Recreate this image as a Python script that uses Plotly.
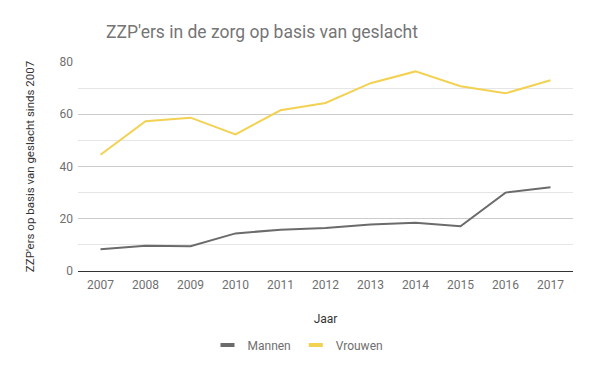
import plotly.graph_objects as go

years = ["2007", "2008", "2009", "2010", "2011", "2012", "2013", "2014", "2015", "2016", "2017"]
mannen = [8.3, 9.7, 9.5, 14.4, 15.8, 16.5, 17.8, 18.5, 17.1, 30.0, 32.1]
vrouwen = [44.5, 57.3, 58.7, 52.3, 61.5, 64.3, 71.9, 76.4, 70.7, 68.0, 73.0]
y_ticks = [0, 20, 40, 60, 80]
series = [("Mannen", mannen, "#6b6b6b"), ("Vrouwen", vrouwen, "#f3d152")]

FONT = "Roboto, Arial, sans-serif"
TXT = "#6f6f6f"
W, H = 600, 371

fig = go.Figure()
for name, vals, col in series:
    fig.add_trace(go.Scatter(x=years, y=vals, mode="lines", name=name, showlegend=False,
                             line=dict(color=col, width=2)))
for name, vals, col in series:
    fig.add_trace(go.Scatter(x=[None], y=[None], mode="markers", name=name,
                             marker=dict(symbol="line-ew", size=10,
                                         line=dict(color=col, width=4))))

fig.update_layout(
    width=W, height=H, autosize=False,
    paper_bgcolor="white", plot_bgcolor="white",
    margin=dict(l=78, r=27, t=62, b=100, autoexpand=False),
    font=dict(family=FONT, color=TXT, size=12),
    title=dict(text="ZZP'ers in de zorg op basis van geslacht",
               x=262 / W, xanchor="center", xref="container",
               y=1 - 32 / H, yanchor="middle", yref="container",
               font=dict(family=FONT, size=17.5, color="#757575")),
    showlegend=True,
    legend=dict(orientation="h", xref="container", x=298 / W, xanchor="center",
                yref="container", y=1 - 345 / H, yanchor="middle",
                font=dict(size=12, color=TXT), itemwidth=30),
    hovermode=False,
)
fig.update_xaxes(
    type="category", showgrid=False, showline=True, linecolor="#333333", linewidth=1,
    ticks="", tickfont=dict(size=12, color=TXT), ticklabelstandoff=3,
    title=dict(text="Jaar", font=dict(size=12, color="#333333"), standoff=23),
    range=[-0.5, len(years) - 0.5], automargin=False,
)
fig.update_yaxes(
    range=[0, 80], tickvals=y_ticks, showgrid=True, gridcolor="#cccccc", gridwidth=1,
    minor=dict(dtick=10, tick0=0, showgrid=True, gridcolor="#e6e6e6", gridwidth=1),
    zeroline=False, ticks="", tickfont=dict(size=12, color=TXT), ticklabelstandoff=4,
    title=dict(text="ZZP'ers op basis van geslacht sinds 2007",
               font=dict(size=11.5, color="#333333"), standoff=22),
    automargin=False,
)

fig.write_html(
    "out.html",
    config={"displayModeBar": False, "staticPlot": True},
    post_script="document.body.style.margin='0';document.body.style.overflow='hidden';",
)
